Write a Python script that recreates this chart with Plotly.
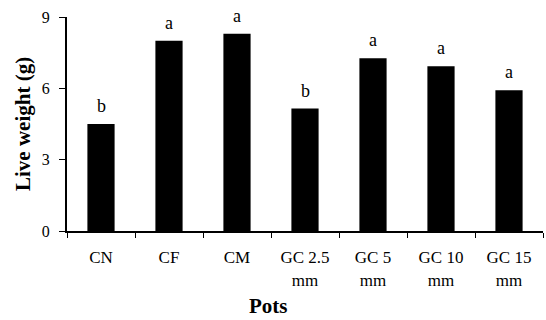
import plotly.graph_objects as go

categories = ["CN", "CF", "CM", "GC 2.5<br>mm", "GC 5<br>mm", "GC 10<br>mm", "GC 15<br>mm"]
live_weight = [4.5, 8.0, 8.3, 5.15, 7.27, 6.93, 5.92]
letters = ["b", "a", "a", "b", "a", "a", "a"]
y_ticks = [0, 3, 6, 9]

font = "Liberation Serif"

L, R, T, B = 67, 3, 17, 89
W, H = 546, 320
pw = W - L - R
ph = H - T - B

fig = go.Figure()
fig.add_trace(go.Bar(x=categories, y=live_weight, marker_color="black",
                     marker_line_width=0, width=0.4))

for c, v, t in zip(categories, live_weight, letters):
    fig.add_annotation(x=c, y=v, text=t, showarrow=False, yanchor="bottom",
                       yshift=6, font=dict(family=font, size=18, color="black"))

# axis titles
fig.add_annotation(xref="paper", yref="paper", x=(268 - L) / pw, y=(H - B - 306) / ph,
                   text="<b>Pots</b>", showarrow=False, xanchor="center", yanchor="middle",
                   borderpad=0,
                   font=dict(family=font, size=21, color="black"))
fig.add_annotation(xref="paper", yref="paper", x=(23 - L) / pw, y=0.5,
                   text="<b>Live weight (g)</b>", showarrow=False, textangle=-90,
                   xanchor="center", yanchor="middle",
                   font=dict(family=font, size=21, color="black"))

fig.update_layout(
    width=W, height=H,
    margin=dict(l=L, r=R, t=T, b=B),
    plot_bgcolor="white", paper_bgcolor="white",
    showlegend=False,
    font=dict(family=font, color="black"),
)
fig.update_xaxes(
    automargin=False,
    showline=True, linecolor="black", linewidth=2,
    ticks="outside", tickson="boundaries", ticklen=5, tickcolor="black", tickwidth=1,
    tickfont=dict(family=font, size=17, color="black"),
    ticklabelstandoff=10,
    showgrid=False,
)
fig.update_yaxes(
    automargin=False,
    range=[0, 9], tickvals=y_ticks,
    showline=True, linecolor="black", linewidth=2,
    ticks="outside", ticklen=6, tickcolor="black", tickwidth=1,
    tickfont=dict(family=font, size=16, color="black"),
    ticklabelstandoff=6,
    showgrid=False, zeroline=False,
)

fig.write_html("out.html", config={"displayModeBar": False},
               post_script="document.body.style.margin='0';document.body.style.overflow='hidden';")
